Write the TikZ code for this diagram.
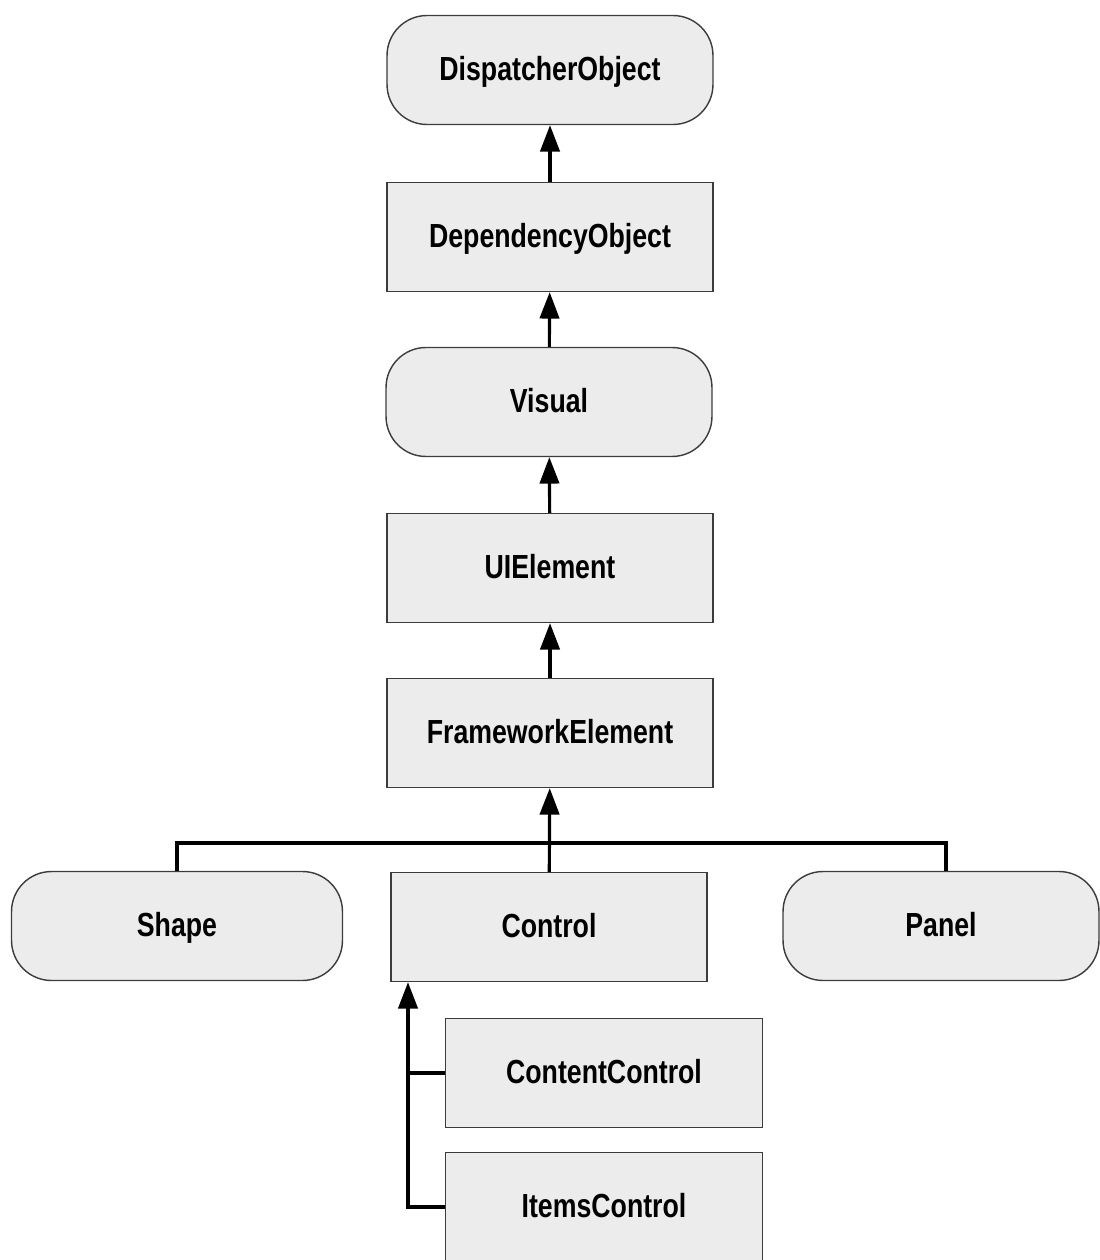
\documentclass[tikz,border=0pt]{standalone}
\usepackage{fontspec}
\setmainfont{Liberation Sans}[FakeStretch=0.8]
\usepackage{tikz}
\usetikzlibrary{arrows.meta}
\definecolor{boxfill}{RGB}{236,236,236}
\definecolor{boxline}{RGB}{60,60,60}

\begin{document}
\begin{tikzpicture}[x=0.02cm,y=-0.02cm,>={Triangle[width=11pt,length=15pt]}]
\tikzstyle{every node}=[draw=boxline,line width=0.8pt,fill=boxfill,minimum width=6.52cm,minimum height=2.18cm,text height=13pt,text depth=1pt,font=\fontsize{19}{22}\selectfont\bfseries];
\tikzstyle{rbox}=[rounded corners=0.8cm];
\tikzstyle{link}=[line width=1.8pt];
\useasboundingbox (0,0) rectangle (1099,1260);
% class tree
%   nodes
    \node[rbox] (dispatcher) at (550,70) {DispatcherObject};
    \node (dependency) at (550,237) {DependencyObject};
    \node[rbox] (visual) at (549,402) {Visual};
    \node (uielement) at (550,568) {UIElement};
    \node (framework) at (550,733) {FrameworkElement};
    \node[rbox,minimum width=6.62cm] (shape) at (177,926) {Shape};
    \node[minimum width=6.32cm] (control) at (549,927) {Control};
    \node[rbox,minimum width=6.32cm] (panel) at (941,926) {Panel};
    \node[minimum width=6.34cm] (content) at (604,1073) {ContentControl};
    \node[minimum width=6.34cm] (items) at (604,1207) {ItemsControl};
    \coordinate (bus) at (549,843);
    \coordinate (trunk) at (408,1210);
%   edges
    \draw[link,->] (dependency) -- (dispatcher);
    \draw[link,->] (visual) -- (dependency);
    \draw[link,->] (uielement) -- (visual);
    \draw[link,->] (framework) -- (uielement);
    \draw[link,->] (control) -- (framework);
    \draw[link] (shape.north) |- (bus) -| ([xshift=0.1cm]panel.north);
    % \draw[link] (content.west) -- (trunk);
    \draw[link,->] (items.west) -| (control.south -| trunk);
    \draw[link] (content.west) -- (content.west -| trunk);
\end{tikzpicture}
\end{document}
